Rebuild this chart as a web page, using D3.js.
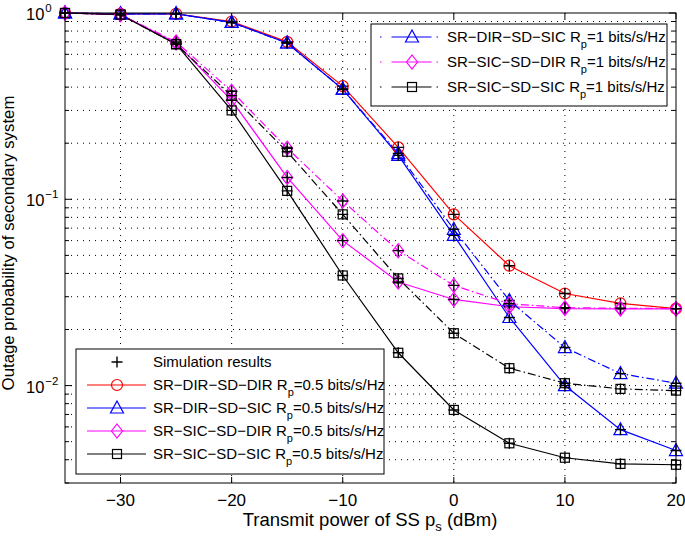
<!DOCTYPE html>
<html>
<head>
<meta charset="utf-8">
<script src="https://cdn.jsdelivr.net/npm/d3@7"></script>
<style>
  body { margin: 0; background: #fff; }
  text { font-family: "Liberation Sans", Arial, sans-serif; fill: #000; }
</style>
</head>
<body>
<div id="chart"></div>
<script>
// transmit power of SS (dBm)
var powers = [-35, -30, -25, -20, -15, -10, -5, 0, 5, 10, 15, 20];

// outage probability, Rp = 0.5 bits/s/Hz
var dirDir05 = [1, 0.99, 0.99, 0.90, 0.70, 0.405, 0.19, 0.083, 0.044, 0.0312, 0.0276, 0.0259];
var dirSic05 = [1, 0.99, 0.99, 0.89, 0.69, 0.39, 0.172, 0.064, 0.0232, 0.0100, 0.0058, 0.00448];
var sicDir05 = [1, 0.98, 0.69, 0.34, 0.131, 0.060, 0.036, 0.029, 0.0265, 0.0259, 0.0258, 0.0258];
var sicSic05 = [1, 0.98, 0.68, 0.30, 0.111, 0.039, 0.0150, 0.0074, 0.0049, 0.0041, 0.0038, 0.00376];
// outage probability, Rp = 1 bits/s/Hz
var dirSic1 = [1, 0.99, 0.99, 0.89, 0.69, 0.39, 0.176, 0.069, 0.0286, 0.016, 0.0116, 0.0103];
var sicDir1 = [1, 0.98, 0.70, 0.38, 0.188, 0.098, 0.053, 0.0345, 0.0275, 0.0262, 0.026, 0.0259];
var sicSic1 = [1, 0.98, 0.68, 0.36, 0.18, 0.083, 0.0376, 0.0191, 0.0124, 0.0103, 0.0096, 0.0094];

var xTicks = [-30, -20, -10, 0, 10, 20];
var yMajor = [1, 0.1, 0.01];
var yExp = ["0", "\u22121", "\u22122"];

var series = [
  { name: "SR\u2212DIR\u2212SD\u2212DIR R", rate: "=0.5 bits/s/Hz", values: dirDir05, color: "#ff0000", marker: "circle", dash: null },
  { name: "SR\u2212DIR\u2212SD\u2212SIC R", rate: "=0.5 bits/s/Hz", values: dirSic05, color: "#0000ff", marker: "triangle", dash: null },
  { name: "SR\u2212SIC\u2212SD\u2212DIR R", rate: "=0.5 bits/s/Hz", values: sicDir05, color: "#ff00ff", marker: "diamond", dash: null },
  { name: "SR\u2212SIC\u2212SD\u2212SIC R", rate: "=0.5 bits/s/Hz", values: sicSic05, color: "#000000", marker: "square", dash: null },
  { name: "SR\u2212DIR\u2212SD\u2212SIC R", rate: "=1 bits/s/Hz", values: dirSic1, color: "#0000ff", marker: "triangle", dash: "8,3,1.5,3" },
  { name: "SR\u2212SIC\u2212SD\u2212DIR R", rate: "=1 bits/s/Hz", values: sicDir1, color: "#ff00ff", marker: "diamond", dash: "8,3,1.5,3" },
  { name: "SR\u2212SIC\u2212SD\u2212SIC R", rate: "=1 bits/s/Hz", values: sicSic1, color: "#000000", marker: "square", dash: "8,3,1.5,3" }
];

var W = 685, H = 538;
var pLeft = 65, pRight = 676, pTop = 13, pBottom = 483;

var svg = d3.select("#chart").append("svg")
    .attr("width", W)
    .attr("height", H);

var x = d3.scaleLinear().domain([-35, 20]).range([pLeft, pRight]);
var y = d3.scaleLog().domain([0.003, 1]).range([pBottom, pTop]);

// minor log positions
var yMinor = [];
[0.001, 0.01, 0.1].forEach(function(d) {
  for (var k = 1; k <= 9; k++) {
    var v = +(d * k).toPrecision(3);
    if (v >= 0.003 && v < 1) yMinor.push(v);
  }
});
yMinor.push(1);

var grid = svg.append("g");
grid.selectAll(".gy").data(yMinor.filter(function(d) { return d < 1 && d > 0.003; })).enter().append("line")
    .attr("x1", pLeft).attr("x2", pRight)
    .attr("y1", function(d) { return y(d); })
    .attr("y2", function(d) { return y(d); })
    .attr("stroke", "#000").attr("stroke-width", 1)
    .attr("stroke-dasharray", "1,5");
grid.selectAll(".gx").data(xTicks.filter(function(d) { return d < 20; })).enter().append("line")
    .attr("x1", function(d) { return x(d); })
    .attr("x2", function(d) { return x(d); })
    .attr("y1", pTop).attr("y2", pBottom)
    .attr("stroke", "#000").attr("stroke-width", 1)
    .attr("stroke-dasharray", "1,5");

// ticks
var ticks = svg.append("g").attr("stroke", "#000").attr("stroke-width", 1);
xTicks.forEach(function(d) {
  ticks.append("line").attr("x1", x(d)).attr("x2", x(d)).attr("y1", pBottom).attr("y2", pBottom - 6);
  ticks.append("line").attr("x1", x(d)).attr("x2", x(d)).attr("y1", pTop).attr("y2", pTop + 6);
});
yMinor.forEach(function(d) {
  var len = yMajor.indexOf(d) >= 0 ? 7 : 4;
  ticks.append("line").attr("x1", pLeft).attr("x2", pLeft + len).attr("y1", y(d)).attr("y2", y(d));
  ticks.append("line").attr("x1", pRight).attr("x2", pRight - len).attr("y1", y(d)).attr("y2", y(d));
});

// tick labels
svg.selectAll(".xl").data(xTicks).enter().append("text")
    .attr("x", function(d) { return x(d); })
    .attr("y", 506)
    .attr("text-anchor", "middle")
    .style("font-size", "17px")
    .text(function(d) { return d < 0 ? "\u2212" + Math.abs(d) : d; });

yMajor.forEach(function(d, i) {
  var t = svg.append("text")
      .attr("x", 26)
      .attr("y", y(d) + 7)
      .style("font-size", "16.5px");
  t.append("tspan").text("10");
  t.append("tspan").attr("dy", -8).attr("dx", 1).style("font-size", "11.5px").text(yExp[i]);
});

// axis titles
var xt = svg.append("text")
    .attr("x", 370)
    .attr("y", 526)
    .attr("text-anchor", "middle")
    .style("font-size", "18.5px");
xt.append("tspan").text("Transmit power of SS p");
xt.append("tspan").attr("dy", 5).style("font-size", "13px").text("s");
xt.append("tspan").attr("dy", -5).text(" (dBm)");

svg.append("text")
    .attr("transform", "translate(14,243) rotate(-90)")
    .attr("text-anchor", "middle")
    .style("font-size", "16.8px")
    .text("Outage probability of secondary system");

// markers
function drawMarker(g, type, cx, cy, color) {
  var m;
  if (type === "circle") {
    m = g.append("circle").attr("cx", cx).attr("cy", cy).attr("r", 5.5);
  } else if (type === "triangle") {
    m = g.append("path").attr("d", "M" + cx + "," + (cy - 7) + "L" + (cx + 6.5) + "," + (cy + 5) + "L" + (cx - 6.5) + "," + (cy + 5) + "Z");
  } else if (type === "diamond") {
    m = g.append("path").attr("d", "M" + cx + "," + (cy - 7) + "L" + (cx + 5.5) + "," + cy + "L" + cx + "," + (cy + 7) + "L" + (cx - 5.5) + "," + cy + "Z");
  } else if (type === "square") {
    m = g.append("rect").attr("x", cx - 4.5).attr("y", cy - 4.5).attr("width", 9).attr("height", 9);
  }
  m.attr("fill", "none").attr("stroke", color).attr("stroke-width", 1.2);
}
function drawPlus(g, cx, cy) {
  g.append("path")
      .attr("d", "M" + (cx - 5.5) + "," + cy + "H" + (cx + 5.5) + "M" + cx + "," + (cy - 5.5) + "V" + (cy + 5.5))
      .attr("stroke", "#000").attr("stroke-width", 1.4).attr("fill", "none");
}

var line = d3.line()
    .x(function(d, i) { return x(powers[i]); })
    .y(function(d) { return y(d); });

var plot = svg.append("g");
series.forEach(function(s) {
  plot.append("path")
      .attr("d", line(s.values))
      .attr("fill", "none")
      .attr("stroke", s.color)
      .attr("stroke-width", 1.2)
      .attr("stroke-dasharray", s.dash);
});
series.forEach(function(s) {
  s.values.forEach(function(v, i) {
    drawMarker(plot, s.marker, x(powers[i]), y(v), s.color);
    drawPlus(plot, x(powers[i]), y(v));
  });
});

// frame
svg.append("rect")
    .attr("x", pLeft).attr("y", pTop)
    .attr("width", pRight - pLeft).attr("height", pBottom - pTop)
    .attr("fill", "none").attr("stroke", "#000").attr("stroke-width", 1);

// legends
function legendLabel(g, tx, ty, s) {
  var t = g.append("text").attr("x", tx).attr("y", ty + 5).style("font-size", "15px");
  t.append("tspan").text(s.name);
  t.append("tspan").attr("dy", 6).style("font-size", "11px").text("p");
  t.append("tspan").attr("dy", -6).text(s.rate);
}

// top right legend, Rp = 1
var lg1 = svg.append("g");
lg1.append("rect").attr("x", 371).attr("y", 24).attr("width", 296).attr("height", 82)
    .attr("fill", "#fff").attr("stroke", "#000").attr("stroke-width", 1);
[4, 5, 6].forEach(function(k, j) {
  var s = series[k], ly = 37 + j * 25;
  lg1.append("line").attr("x1", 380).attr("x2", 438).attr("y1", ly).attr("y2", ly)
      .attr("stroke", s.color).attr("stroke-width", 1.2).attr("stroke-dasharray", "1.5,10,40,5,1.5,50");
  drawMarker(lg1, s.marker, 412, ly, s.color);
  legendLabel(lg1, 447, ly, s);
});

// bottom left legend, Rp = 0.5
var lg2 = svg.append("g");
lg2.append("rect").attr("x", 76).attr("y", 349).attr("width", 308).attr("height", 125)
    .attr("fill", "#fff").attr("stroke", "#000").attr("stroke-width", 1);
drawPlus(lg2, 117, 362);
lg2.append("text").attr("x", 153).attr("y", 367).style("font-size", "15px").text("Simulation results");
[0, 1, 2, 3].forEach(function(k, j) {
  var s = series[k], ly = 385 + j * 23;
  lg2.append("line").attr("x1", 87).attr("x2", 146).attr("y1", ly).attr("y2", ly)
      .attr("stroke", s.color).attr("stroke-width", 1.2);
  drawMarker(lg2, s.marker, 117, ly, s.color);
  legendLabel(lg2, 153, ly, s);
});
</script>
</body>
</html>
